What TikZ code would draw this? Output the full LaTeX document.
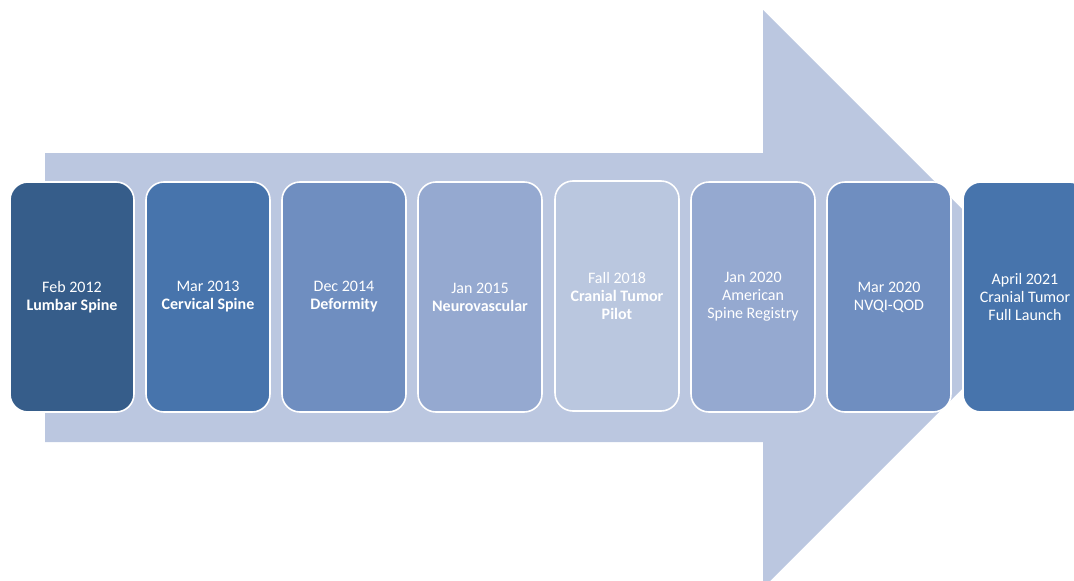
\documentclass[tikz,border=0pt]{standalone}
\usepackage{fontspec}
\setmainfont{Carlito}
\definecolor{arrowfill}{RGB}{187,199,224}
\definecolor{shadeA}{RGB}{54,93,138}
\definecolor{shadeB}{RGB}{71,116,172}
\definecolor{shadeC}{RGB}{111,142,192}
\definecolor{shadeD}{RGB}{149,169,208}
\definecolor{shadeE}{RGB}{186,199,223}
\tikzset{
  stage/.style={draw=white, line width=1.6pt, rounded corners=18pt,
    minimum width=124pt, minimum height=230pt, inner sep=0pt,
    text=white, align=center, font=\fontsize{16}{18}\selectfont},
}
\begin{document}
\begin{tikzpicture}[x=1pt,y=-1pt]
\useasboundingbox (0,0) rectangle (1074,581);
\clip (0,0) rectangle (1074,581);
\fill[arrowfill] (45,153) -- (763,153) -- (763,10) -- (1052,299) -- (763,588) -- (763,442) -- (45,442) -- cycle;
\node[stage, fill=shadeA] (lumbar) at (72,297) {Feb 2012\\\textbf{Lumbar Spine}};
\node[stage, fill=shadeB] (cervical) at (208,297) {Mar 2013\\\textbf{Cervical Spine}};
\node[stage, fill=shadeC] (deformity) at (344,297) {Dec 2014\\\textbf{Deformity}};
\node[stage, fill=shadeD] (neurovasc) at (480,297) {Jan 2015\\\textbf{Neurovascular}};
\node[stage, fill=shadeE] (pilot) at (617,296) {Fall 2018\\\textbf{Cranial Tumor}\\\textbf{Pilot}};
\node[stage, fill=shadeD] (registry) at (753,297) {Jan 2020\\American\\Spine Registry};
\node[stage, fill=shadeC] (nvqi) at (889,297) {Mar 2020\\NVQI-QOD};
\node[stage, fill=shadeB] (launch) at (1025,297) {April 2021\\Cranial Tumor\\Full Launch};
\end{tikzpicture}
\end{document}
